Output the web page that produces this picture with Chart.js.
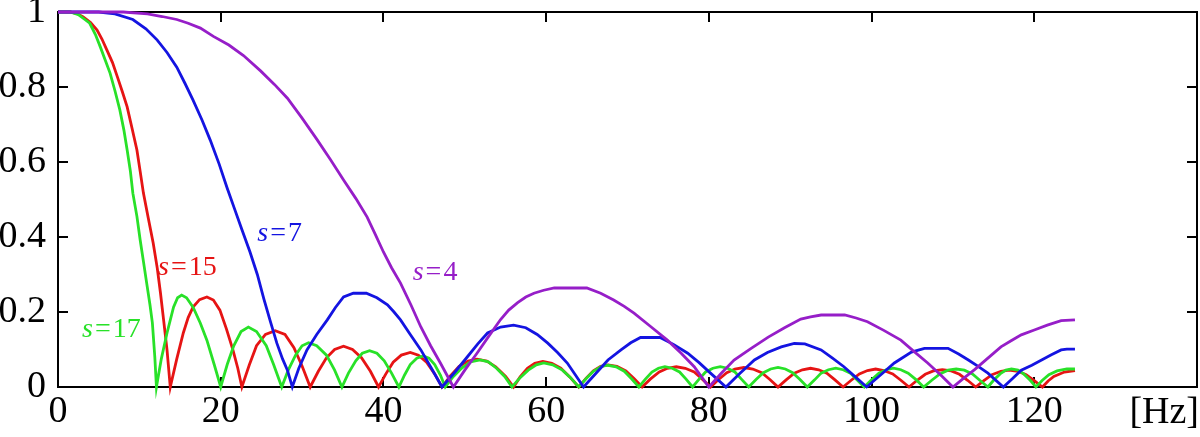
<!DOCTYPE html>
<html>
<head>
<meta charset="utf-8">
<script src="https://cdn.jsdelivr.net/npm/chart.js@4.4.0/dist/chart.umd.min.js"></script>
<style>
  html, body { margin: 0; padding: 0; background: #fff; }
  #wrap { width: 1200px; height: 437px; }
</style>
</head>
<body>
<div id="wrap"><canvas id="mychart"></canvas></div>
<script>
// [Hz, magnitude]
const s17 = [[0,1],[1.5,1],[2.5,0.993],[3.3,0.98],[3.9,0.97],[4.6,0.94],[5.2,0.907],[5.8,0.872],[6.4,0.837],[7,0.79],[7.6,0.739],[8.1,0.685],[8.5,0.632],[8.9,0.575],[9.2,0.517],[9.7,0.455],[10.1,0.392],[10.5,0.335],[10.9,0.277],[11.3,0.22],[11.6,0.171],[11.9,0.08],[12.1,0],
  [12.7,0.075],[13.4,0.144],[14.2,0.213],[14.7,0.238],[15.2,0.245],[15.8,0.238],[16.6,0.213],[17.5,0.17],[18.3,0.125],[19.2,0.06],[20,0],
  [20.8,0.06],[21.6,0.11],[22.5,0.148],[23.4,0.16],[24.4,0.148],[25.6,0.11],[26.5,0.06],[27.5,0],
  [28.3,0.045],[29.2,0.085],[30,0.11],[30.8,0.118],[31.8,0.11],[33,0.085],[34,0.045],[34.9,0],
  [35.7,0.037],[36.6,0.07],[37.4,0.09],[38.3,0.097],[39.2,0.09],[40.1,0.07],[41,0.037],[41.9,0],
  [42.6,0.032],[43.3,0.06],[44.1,0.077],[44.9,0.083],[45.6,0.077],[46.3,0.06],[47,0.032],[47.6,0],
  [48.6,0.028],[49.6,0.05],[50.7,0.067],[51.9,0.072],[52.9,0.067],[53.9,0.05],[54.9,0.028],[55.8,0],
  [56.8,0.025],[57.8,0.045],[58.8,0.059],[59.7,0.064],[60.8,0.059],[62,0.045],[63,0.025],[64,0],
  [64.9,0.022],[65.8,0.042],[66.7,0.054],[67.6,0.058],[68.6,0.054],[69.6,0.042],[70.5,0.022],[71.4,0],
  [72.2,0.021],[73,0.04],[73.8,0.05],[74.6,0.054],[75.5,0.05],[76.4,0.04],[77.2,0.021],[78,0],
  [78.8,0.021],[79.6,0.04],[80.5,0.05],[81.4,0.054],[82.3,0.05],[83.2,0.04],[84,0.021],[84.9,0],
  [85.8,0.02],[86.7,0.038],[87.6,0.048],[88.5,0.052],[89.4,0.048],[90.3,0.038],[91.2,0.02],[92.1,0],
  [93,0.019],[93.8,0.037],[94.7,0.046],[95.6,0.05],[96.5,0.046],[97.4,0.037],[98.2,0.019],[99.1,0],
  [100,0.019],[100.9,0.037],[101.8,0.046],[102.7,0.05],[103.6,0.046],[104.5,0.037],[105.5,0.019],[106.4,0],
  [107.4,0.018],[108.4,0.035],[109.4,0.045],[110.4,0.048],[111.4,0.045],[112.4,0.035],[113.3,0.018],[114.3,0],
  [115,0.018],[115.8,0.035],[116.5,0.045],[117.2,0.048],[118,0.045],[118.7,0.035],[119.5,0.018],[120.2,0],
  [121,0.018],[121.8,0.033],[122.8,0.043],[124,0.048],[125,0.048]];

const s15 = [[0,1],[1.5,1],[2.4,0.995],[3.1,0.987],[4,0.972],[4.8,0.952],[5.4,0.928],[6,0.899],[6.7,0.865],[7.3,0.827],[7.9,0.788],[8.5,0.747],[9.1,0.69],[9.7,0.632],[10.1,0.575],[10.5,0.517],[11.1,0.45],[11.7,0.384],[12.2,0.317],[12.6,0.25],[13,0.175],[13.4,0.099],[13.8,0],
  [14.6,0.075],[15.4,0.144],[16,0.185],[16.6,0.213],[17.4,0.233],[18.3,0.24],[19.1,0.232],[19.9,0.205],[20.7,0.155],[21.5,0.099],[22.1,0.05],[22.6,0],
  [23.5,0.058],[24.4,0.11],[25.5,0.14],[26.7,0.15],[27.9,0.14],[29,0.105],[30,0.056],[31,0],
  [32,0.042],[33,0.078],[34,0.1],[35.1,0.109],[36.2,0.1],[37.3,0.078],[38.4,0.042],[39.4,0],
  [40.3,0.035],[41.2,0.066],[42.2,0.085],[43.3,0.092],[44.3,0.085],[45.3,0.066],[46.3,0.035],[47.2,0],
  [48.2,0.029],[49.3,0.055],[50.4,0.069],[51.5,0.074],[52.7,0.069],[53.8,0.054],[55,0.029],[56,0],
  [56.8,0.027],[57.7,0.05],[58.6,0.063],[59.6,0.068],[60.7,0.063],[61.8,0.05],[62.9,0.027],[64,0],
  [64.9,0.023],[65.8,0.043],[66.7,0.055],[67.6,0.059],[68.7,0.055],[69.8,0.043],[70.8,0.023],[71.8,0],
  [72.8,0.021],[73.9,0.04],[74.9,0.05],[76,0.054],[77.1,0.05],[78.2,0.04],[79.2,0.021],[80.2,0],
  [81.2,0.02],[82.2,0.038],[83.2,0.048],[84.3,0.052],[85.4,0.048],[86.5,0.038],[87.5,0.02],[88.5,0],
  [89.5,0.019],[90.5,0.037],[91.5,0.046],[92.5,0.05],[93.5,0.046],[94.5,0.037],[95.5,0.019],[96.5,0],
  [97.5,0.018],[98.5,0.035],[99.5,0.044],[100.5,0.048],[101.5,0.044],[102.6,0.035],[103.6,0.018],[104.6,0],
  [105.6,0.018],[106.6,0.034],[107.6,0.043],[108.7,0.046],[109.8,0.043],[110.8,0.034],[111.8,0.018],[112.8,0],
  [113.8,0.017],[114.8,0.033],[115.9,0.042],[116.9,0.045],[118,0.042],[119,0.033],[120,0.017],[121,0],
  [121.7,0.016],[122.4,0.028],[123.7,0.04],[125,0.044]];

const s7 = [[0,1],[5,1],[7,0.995],[9.2,0.98],[10.8,0.955],[12.2,0.925],[13.4,0.892],[14.6,0.853],[15.6,0.81],[16.6,0.765],[17.7,0.712],[18.7,0.659],[19.8,0.595],[20.8,0.53],[21.7,0.475],[22.6,0.42],[23.6,0.36],[24.5,0.3],[25.3,0.235],[26.1,0.175],[26.9,0.117],[27.6,0.075],[28.2,0.045],[28.8,0],
  [29.6,0.05],[30.6,0.099],[31.8,0.14],[33.1,0.179],[34.1,0.212],[35.1,0.24],[36.3,0.25],[37.9,0.25],[39.2,0.238],[40.5,0.219],[41.3,0.2],[42.1,0.179],[43.3,0.14],[44.6,0.099],[45.9,0.05],[47.2,0],
  [48.8,0.04],[50.3,0.08],[51.6,0.115],[52.8,0.144],[54.4,0.16],[56,0.165],[57.5,0.158],[58.9,0.14],[60.2,0.117],[61.4,0.092],[62.6,0.064],[63.6,0.032],[64.6,0],
  [66.1,0.036],[67.6,0.072],[69.2,0.099],[70.4,0.118],[71.6,0.132],[74,0.132],[75.7,0.113],[77.4,0.09],[78.8,0.065],[80.2,0.037],[82.1,0],
  [83.8,0.036],[85.6,0.072],[87.2,0.092],[88.9,0.107],[90.5,0.116],[91.8,0.115],[93.8,0.099],[95.2,0.077],[96.6,0.054],[98,0.027],[99.4,0],
  [101.1,0.032],[102.8,0.064],[104.9,0.093],[106.5,0.103],[109.4,0.103],[110.7,0.088],[111.9,0.072],[113.1,0.055],[114.3,0.037],[116.2,0],
  [117.3,0.022],[118.4,0.045],[119.7,0.058],[120.9,0.072],[122.1,0.086],[123.3,0.099],[124,0.101],[125,0.101]];

const s4 = [[0,1],[8,1],[11,0.995],[12.8,0.988],[14.6,0.98],[16,0.97],[17.5,0.957],[19.1,0.935],[21,0.912],[22.8,0.884],[24.9,0.843],[26.6,0.807],[28.2,0.77],[30,0.717],[31.8,0.661],[33.5,0.606],[35.1,0.552],[36.6,0.503],[38,0.453],[39,0.407],[40,0.36],[41,0.318],[42.1,0.277],[43.4,0.218],[44.6,0.16],[45.8,0.11],[47,0.064],[47.8,0.032],[48.6,0],
  [50,0.045],[51.5,0.09],[53,0.137],[54.4,0.18],[55.4,0.205],[56.5,0.225],[57.5,0.24],[58.5,0.25],[59.7,0.258],[61,0.264],[65,0.264],[66.7,0.25],[68.3,0.232],[69.6,0.215],[70.8,0.197],[72.8,0.162],[74.9,0.125],[76.6,0.09],[78.2,0.054],[79.1,0.027],[80,0],
  [81.5,0.036],[83.1,0.072],[85.2,0.103],[87.3,0.133],[89.3,0.158],[91.3,0.181],[92.5,0.187],[93.8,0.192],[96.7,0.192],[98.1,0.184],[99.5,0.174],[101.5,0.151],[103.6,0.125],[105.2,0.095],[106.9,0.064],[108.5,0.032],[110,0],
  [111.3,0.023],[112.7,0.047],[114.3,0.077],[115.9,0.107],[117.2,0.124],[118.4,0.139],[120,0.152],[121.6,0.165],[123.3,0.177],[125,0.179]];

const xTicks = [0, 20, 40, 60, 80, 100, 120];
const yTicks = [0, 0.2, 0.4, 0.6, 0.8, 1];
const xUnit = '[Hz]';

const green = 'rgb(40,225,40)', red = 'rgb(230,20,20)', blue = 'rgb(20,20,225)', purple = 'rgb(150,30,200)';

// curve names: [number, Hz, value, colour]
const names = [['17', 2.95, 0.133, green], ['15', 12.3, 0.299, red], ['7', 24.5, 0.389, blue], ['4', 43.6, 0.285, purple]];

const serif = "'Liberation Serif', 'Times New Roman', serif";

const toXY = arr => arr.map(p => ({ x: p[0], y: p[1] }));
const line = (arr, c) => ({ data: toXY(arr), borderColor: c, borderWidth: 2.8, pointRadius: 0, tension: 0, fill: false, clip: false });

const frame = {
  id: 'frame',
  beforeDatasetsDraw(chart) {
    const { ctx, chartArea: a, scales: { x, y } } = chart;
    ctx.save();
    ctx.strokeStyle = '#000';
    ctx.lineWidth = 2;
    ctx.strokeRect(a.left, a.top, a.right - a.left, a.bottom - a.top);
    ctx.beginPath();
    xTicks.slice(1).forEach(v => {
      const px = Math.round(x.getPixelForValue(v));
      ctx.moveTo(px, a.bottom); ctx.lineTo(px, a.bottom - 10);
      ctx.moveTo(px, a.top); ctx.lineTo(px, a.top + 10);
    });
    yTicks.slice(1, -1).forEach(v => {
      const py = Math.round(y.getPixelForValue(v));
      ctx.moveTo(a.left, py); ctx.lineTo(a.left + 10, py);
      ctx.moveTo(a.right, py); ctx.lineTo(a.right - 10, py);
    });
    ctx.stroke();
    ctx.restore();
  },
  afterDatasetsDraw(chart) {
    const { ctx, chartArea: a, scales: { x, y } } = chart;
    ctx.save();
    ctx.textBaseline = 'alphabetic';
    names.forEach(n => {
      let px = x.getPixelForValue(n[1]);
      const py = y.getPixelForValue(n[2]);
      ctx.fillStyle = n[3];
      ctx.font = 'italic 28px ' + serif;
      ctx.fillText('s', px, py);
      px += ctx.measureText('s').width + 2;
      ctx.font = '28px ' + serif;
      ctx.fillText('=', px, py);
      px += ctx.measureText('=').width + 2;
      ctx.fillText(n[0], px, py);
    });
    // unit in place of the last x label
    ctx.fillStyle = '#000';
    ctx.font = '38px ' + serif;
    ctx.textAlign = 'right';
    ctx.fillText(xUnit, a.right + 2, a.bottom + 36);
    ctx.restore();
  }
};

new Chart(document.getElementById('mychart'), {
  type: 'line',
  data: {
    datasets: [line(s4, purple), line(s7, blue), line(s17, green), line(s15, red)]
  },
  options: {
    responsive: true,
    maintainAspectRatio: false,
    animation: false,
    layout: { padding: { top: 12, right: 3, left: 0, bottom: 0 } },
    plugins: { legend: { display: false }, tooltip: { enabled: false } },
    scales: {
      x: {
        type: 'linear', min: 0, max: 140,
        afterFit(s) { s.height = 50; s.paddingLeft = 0; s.paddingRight = 0; },
        afterBuildTicks(s) { s.ticks = xTicks.map(v => ({ value: v })); },
        grid: { display: false, drawTicks: false },
        border: { display: false },
        ticks: { color: '#000', padding: 2, maxRotation: 0, font: { family: serif, size: 38 }, callback: v => String(v) }
      },
      y: {
        min: 0, max: 1,
        afterFit(s) { s.width = 58; s.paddingTop = 0; s.paddingBottom = 0; },
        afterBuildTicks(s) { s.ticks = yTicks.map(v => ({ value: v })); },
        grid: { display: false, drawTicks: false },
        border: { display: false },
        ticks: { color: '#000', padding: 12, font: { family: serif, size: 38 }, callback: v => (v === 0 || v === 1) ? String(v) : v.toFixed(1) }
      }
    }
  },
  plugins: [frame]
});
</script>
</body>
</html>
